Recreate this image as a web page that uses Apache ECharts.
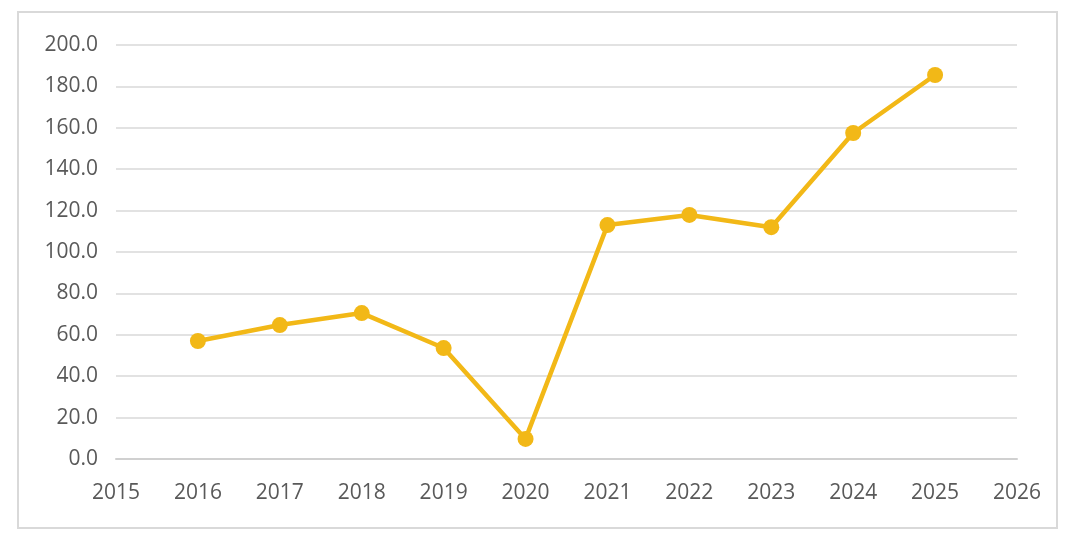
<!DOCTYPE html>
<html>
<head>
<meta charset="utf-8">
<script src="https://cdn.jsdelivr.net/npm/echarts@6/dist/echarts.min.js"></script>
<style>
html, body { margin: 0; padding: 0; background: #fff; }
#main { width: 1080px; height: 548px; }
</style>
</head>
<body>
<div id="main"></div>
<script>
var years = [2016, 2017, 2018, 2019, 2020, 2021, 2022, 2023, 2024, 2025];
var values = [57.0, 64.7, 70.5, 53.6, 9.7, 113.0, 117.9, 112.0, 157.5, 185.5];

var chart = echarts.init(document.getElementById('main'));
var labelStyle = {
    color: '#595959',
    fontSize: 21,
    fontFamily: 'Open Sans'
};
var option = {
    animation: false,
    graphic: [{
        type: 'rect',
        shape: { x: 18, y: 12, width: 1039, height: 516 },
        style: { fill: 'none', stroke: '#d9d9d9', lineWidth: 2 },
        silent: true
    }],
    grid: {
        left: 116,
        right: 63,
        top: 45,
        bottom: 89
    },
    xAxis: {
        type: 'value',
        min: 2015,
        max: 2026,
        interval: 1,
        axisLine: { show: true, lineStyle: { color: '#d0d0d0', width: 2 } },
        axisTick: { show: false },
        splitLine: { show: false },
        axisLabel: Object.assign({
            margin: 24,
            formatter: function (v) { return String(v); }
        }, labelStyle)
    },
    yAxis: {
        type: 'value',
        min: 0,
        max: 200,
        interval: 20,
        axisLine: { show: false },
        axisTick: { show: false },
        splitLine: { lineStyle: { color: '#d9d9d9', width: 1.5 } },
        axisLabel: Object.assign({
            margin: 18,
            formatter: function (v) { return v.toFixed(1); }
        }, labelStyle)
    },
    series: [{
        type: 'line',
        data: years.map(function (y, i) { return [y, values[i]]; }),
        symbol: 'circle',
        symbolSize: 16,
        lineStyle: { color: '#f2b817', width: 4.5 },
        itemStyle: { color: '#f2b817' }
    }]
};
chart.setOption(option);
</script>
</body>
</html>
